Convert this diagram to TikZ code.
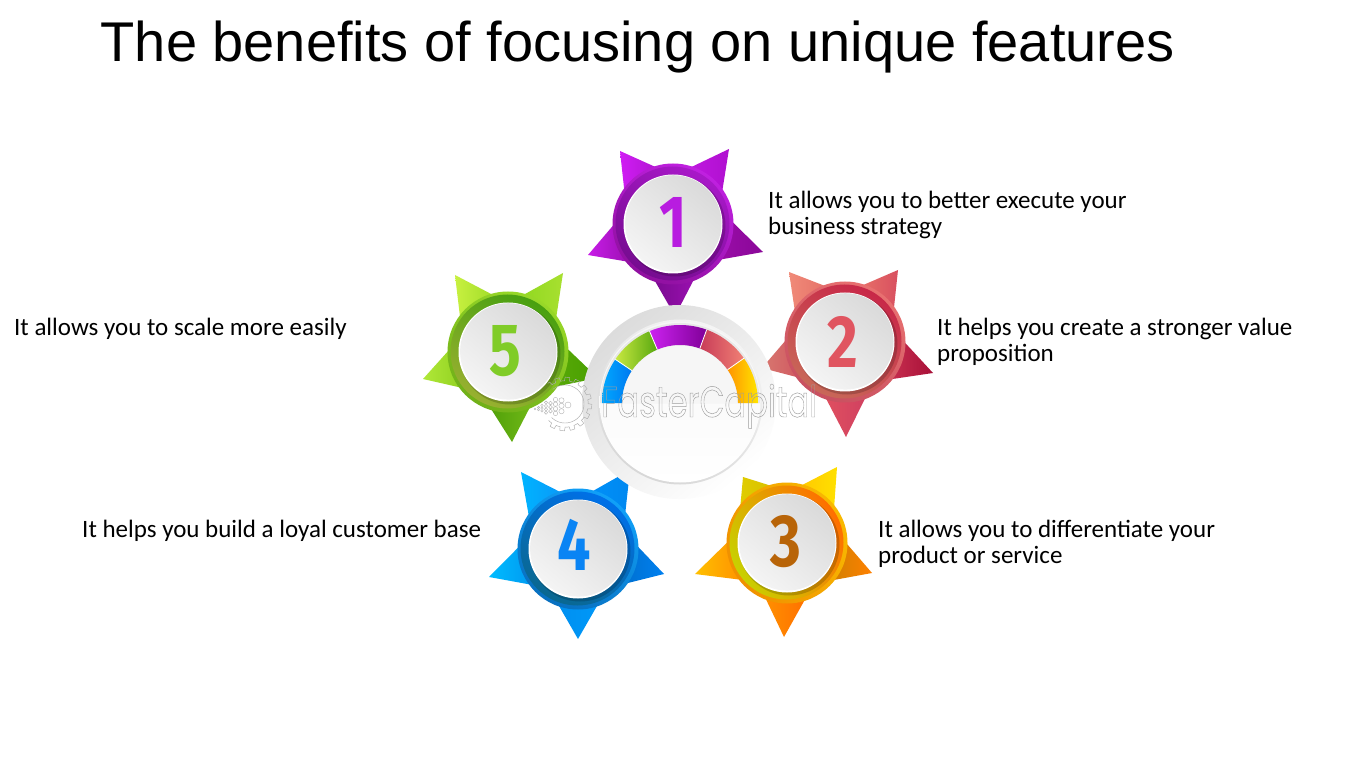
\documentclass[tikz,border=0pt]{standalone}
\usepackage{fontspec}
\setmainfont{Carlito}
\newfontfamily\titlefont{Liberation Sans}
\newfontfamily\digitfont{Fira Sans}
\newfontfamily\markfont{Poppins}
\usetikzlibrary{calc}
\newcommand\tipshape[6]{%
  \definecolor{ca}{HTML}{#5}\definecolor{cb}{HTML}{#6}%
  \pgfmathsetmacro\tipang{atan2(#4-#2,#3-#1)}%
  \path[left color=ca,right color=cb]
    ({#1+57*cos(\tipang+22)},{#2+57*sin(\tipang+22)}) -- (#3,#4) --
    ({#1+57*cos(\tipang-22)},{#2+57*sin(\tipang-22)}) -- cycle;}
% cx cy outer1 outer2 inner1 inner2 angle
\newcommand\badgedisc[7]{%
  \definecolor{ca}{HTML}{#3}\definecolor{cb}{HTML}{#4}\definecolor{cc}{HTML}{#5}\definecolor{cd}{HTML}{#6}%
  \path[left color=ca,right color=cb,shading angle=#7] (#1,#2) circle[radius=60.5];
  \path[left color=cc,right color=cd,shading angle=#7] ({#1-.5},{#2-.5}) circle[radius=57];
  \fill[black,opacity=.18] ({#1+2},{#2+2}) circle[radius=50.5];
  \fill[white] (#1,#2) circle[radius=49.5];
  \path[left color=discA,right color=discB,shading angle=-40] ({#1+.3},{#2-.6}) circle[radius=48.2];}
\newcommand\segment[4]{% from to c1 c2
  \definecolor{ca}{HTML}{#3}\definecolor{cb}{HTML}{#4}%
  \path[left color=ca,right color=cb]
    plot[domain=#1:#2,samples=24] ({680+78*cos(\x)},{403-78*sin(\x)}) --
    plot[domain=#2:#1,samples=24] ({680+58*cos(\x)},{403-58*sin(\x)}) -- cycle;}
\definecolor{discA}{HTML}{DADADA}
\definecolor{discB}{HTML}{F4F4F4}
\definecolor{ringA}{HTML}{DCDCDC}
\definecolor{ringB}{HTML}{FFFFFF}
\definecolor{edgeA}{HTML}{F4F4F4}
\definecolor{edgeB}{HTML}{D8D8D8}
\definecolor{dialA}{HTML}{F6F6F6}
\definecolor{dialB}{HTML}{FFFFFF}
\definecolor{dialC}{HTML}{E8E8E8}
\definecolor{dCa}{HTML}{B81CE0}
\definecolor{dCb}{HTML}{E05560}
\definecolor{dCc}{HTML}{B86408}
\definecolor{dCd}{HTML}{0A84F4}
\definecolor{dCe}{HTML}{80CC28}
\tikzset{
  body/.style={font=\fontsize{25}{26}\selectfont,align=left,inner sep=0pt,text=black},
  digit/.style={inner sep=0pt,font=\digitfont\bfseries\fontsize{74}{74}\selectfont},
  gearline/.style={draw=black!32,line width=.45pt},
  dotline/.style={draw=black!30,line width=.4pt}
}
\begin{document}
\begin{tikzpicture}[x=1pt,y=-1pt]
\useasboundingbox (0,0) rectangle (1350,759);
\fill[white] (0,0) rectangle (1350,759);
\node[anchor=west,inner sep=0pt,font=\titlefont\fontsize{56}{60}\selectfont] (title) at (100.5,47) {The benefits of focusing on unique features};

% badge 1
\tipshape{673}{224}{620}{151}{D01CF4}{B015D0}
\tipshape{673}{224}{729}{149}{C018E0}{B010D0}
\tipshape{673}{224}{763}{252}{9A0CA8}{8A0898}
\tipshape{673}{224}{675}{316}{7A0A90}{9A10B0}
\tipshape{673}{224}{588}{255}{C81CE8}{9A10B0}
\badgedisc{673}{224}{C020E0}{9010A0}{A818C8}{760C90}{-30}
% badge 2
\tipshape{845}{342}{789}{272}{F08A78}{E57068}
\tipshape{845}{342}{898}{270}{E87068}{D85060}
\tipshape{845}{342}{933}{373}{C83050}{A81038}
\tipshape{845}{342}{846}{437}{E05060}{D04060}
\tipshape{845}{342}{762}{368}{D87870}{D05860}
\badgedisc{845}{342}{E87070}{C85060}{C82848}{C86858}{-30}
% badge 3
\tipshape{787}{543}{743}{477}{E0CC00}{D8C000}
\tipshape{787}{543}{837}{467}{FFC800}{FFE000}
\tipshape{787}{543}{872}{573}{D08000}{FF8000}
\tipshape{787}{543}{784}{637}{FF9000}{FF7000}
\tipshape{787}{543}{695}{574}{FFC000}{FF9000}
\badgedisc{787}{543}{F8B800}{F09000}{FF6E00}{C8D000}{-60}
% badge 4
\tipshape{578}{549}{521}{472}{00B4FF}{0A98F8}
\tipshape{578}{549}{630}{470}{0090F8}{0088F0}
\tipshape{578}{549}{664}{574}{0070D0}{0080F0}
\tipshape{578}{549}{578}{639}{0090F0}{0098F8}
\tipshape{578}{549}{489}{577}{00BCFF}{0098F0}
\badgedisc{578}{549}{10A0F8}{0870C0}{0070E8}{0A6890}{-30}
% badge 5
\tipshape{508}{352}{455}{275}{C8F040}{A0DC28}
\tipshape{508}{352}{563}{273}{90D820}{A8E030}
\tipshape{508}{352}{598}{378}{58A808}{48A000}
\tipshape{508}{352}{512}{442}{50A008}{70B818}
\tipshape{508}{352}{423}{379}{B0E838}{90D020}
\badgedisc{508}{352}{98D828}{70B018}{48A010}{98B030}{-30}

\node[digit,text=dCa] (d1) at (673,222) {\scalebox{.8}[1]{1}};
\node[digit,text=dCb] (d2) at (843,342) {\scalebox{.8}[1]{2}};
\node[digit,text=dCc] (d3) at (786,542) {\scalebox{.8}[1]{3}};
\node[digit,text=dCd] (d4) at (574,545) {\scalebox{.8}[1]{4}};
\node[digit,text=dCe] (d5) at (505,351) {\scalebox{.8}[1]{5}};

% central dial
\path[left color=ringA,right color=ringB,shading angle=40] (679,402) circle[radius=97];
\path[left color=edgeA,right color=edgeB,shading angle=-30] (680,402) circle[radius=82.5];
\path[top color=dialA,bottom color=dialB] (680,402) circle[radius=80.5];
\fill[dialC] plot[domain=0:180,samples=50] ({680+80*cos(\x)},{403-80*sin(\x)}) -- cycle;
\segment{180}{146}{00A8FF}{0078F0}
\segment{146}{113}{C8E840}{58A810}
\segment{113}{70}{CC22F0}{800098}
\segment{70}{35}{C83C58}{F08074}
\segment{35}{0}{FF9400}{FFE400}
\foreach \a in {146,113,70,35}{\draw[white,line width=.8pt]
  ({680+58*cos(\a)},{403-58*sin(\a)}) -- ({680+78*cos(\a)},{403-78*sin(\a)});}
\fill[dialA] plot[domain=0:180,samples=50] ({680+57.5*cos(\x)},{403-57.5*sin(\x)}) -- cycle;

% watermark
\draw[gearline] plot[domain=-130:135,samples=212] ({565+(25+1.8*sign(sin(16*\x)))*cos(\x)},{404+(25+1.8*sign(sin(16*\x)))*sin(\x)});
\draw[gearline] plot[domain=-130:135,samples=60] ({565+19*cos(\x)},{404+19*sin(\x)});
\foreach \px/\n/\rr in {568/1/3,561.5/3/2.6,555.5/4/2.2,550.5/3/1.9,546/4/1.6,542/3/1.3,538.5/2/1.1,535/1/.9}{
  \foreach \k in {1,...,\n}{
    \draw[dotline] (\px,{405+(\k-(\n+1)/2)*2.1*\rr+ (568-\px)*.12}) circle[radius=\rr];}}
\node[inner sep=0pt,anchor=base west] (mark) at (601,417) {\special{pdf:code 1 Tr 0.45 w 0.62 G}\resizebox{216pt}{33pt}{\markfont\fontsize{40}{40}\selectfont FasterCapital}\special{pdf:code 0 Tr}};

\node[body,anchor=west] (t1) at (768,215) {It allows you to better execute your\\business strategy};
\node[body,anchor=west] (t2) at (937,342) {It helps you create a stronger value\\proposition};
\node[body,anchor=west] (t3) at (878,544) {It allows you to differentiate your\\product or service};
\node[body,anchor=west] (t4) at (82,531) {It helps you build a loyal customer base};
\node[body,anchor=west] (t5) at (14,329) {It allows you to scale more easily};
\end{tikzpicture}
\end{document}
